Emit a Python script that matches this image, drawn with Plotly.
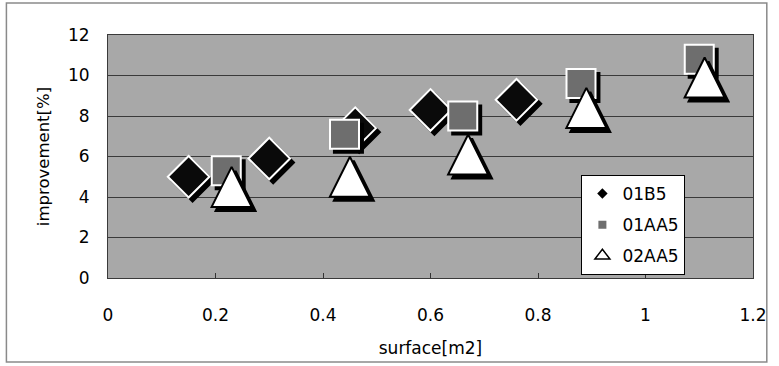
import plotly.graph_objects as go

# Measured improvement vs. surface for three sample series
x_01b5 = [0.15, 0.30, 0.46, 0.60, 0.76]
y_01b5 = [5.0, 5.9, 7.4, 8.3, 8.8]

x_01aa5 = [0.22, 0.44, 0.66, 0.88, 1.10]
y_01aa5 = [5.3, 7.1, 8.0, 9.6, 10.8]

x_02aa5 = [0.23, 0.45, 0.67, 0.89, 1.11]
y_02aa5 = [4.5, 5.0, 6.1, 8.4, 9.9]

series_names = ["01B5", "01AA5", "02AA5"]
x_ticks = [0, 0.2, 0.4, 0.6, 0.8, 1, 1.2]
y_ticks = [0, 2, 4, 6, 8, 10, 12]

# Figure geometry (px)
W, H = 779, 366
ML, MR, MT, MB = 108, 17, 35, 88
PW, PH = W - ML - MR, H - MT - MB
X_RANGE = (0, 1.2)
Y_RANGE = (0, 12)

# Drop-shadow offset, converted from px to data units
SH_PX = 4
dx = SH_PX * (X_RANGE[1] - X_RANGE[0]) / PW
dy = SH_PX * (Y_RANGE[1] - Y_RANGE[0]) / PH

FONT = "DejaVu Sans, Arial, sans-serif"

fig = go.Figure()

# Triangle drawn as a rotated arrow so it is as tall as it is wide
TRI_SIZE = 40
tri_marker = dict(symbol="arrow-down", angle=180, standoff=TRI_SIZE / 2)

styles = [
    (x_01b5, y_01b5, dict(symbol="diamond", size=32, color="#0a0a0a",
                          line=dict(color="white", width=2))),
    (x_01aa5, y_01aa5, dict(symbol="square", size=29, color="#6e6e6e",
                            line=dict(color="white", width=2))),
    (x_02aa5, y_02aa5, dict(size=TRI_SIZE, color="white",
                            line=dict(color="black", width=2), **tri_marker)),
]

for xs, ys, mk in styles:
    shadow = dict(mk)
    shadow["color"] = "black"
    shadow["line"] = dict(color="black", width=mk["line"]["width"])
    fig.add_trace(go.Scatter(
        x=[v + dx for v in xs], y=[v - dy for v in ys], mode="markers",
        marker=shadow, showlegend=False, hoverinfo="skip"))
    fig.add_trace(go.Scatter(
        x=xs, y=ys, mode="markers", marker=mk, showlegend=False))

# Legend entries with small key symbols
legend_markers = [
    dict(symbol="diamond", size=8, color="black"),
    dict(symbol="square", size=8, color="#6e6e6e"),
    dict(symbol="triangle-up-open", size=13, color="black", line=dict(width=1.5)),
]
for i, (name, mk) in enumerate(zip(series_names, legend_markers)):
    fig.add_trace(go.Scatter(
        x=[None], y=[None], mode="markers", name=name, marker=mk,
        legendgroup=f"g{i}"))

# Outer frame around the whole chart
def px_to_paper_x(px):
    return (px - ML) / PW

def px_to_paper_y(py):
    return (H - MB - py) / PH

fig.add_shape(type="rect", xref="paper", yref="paper",
              x0=px_to_paper_x(5), x1=px_to_paper_x(776),
              y0=px_to_paper_y(362), y1=px_to_paper_y(3),
              line=dict(color="#8a8a8a", width=1.5), fillcolor="rgba(0,0,0,0)",
              layer="below")

fig.update_layout(
    width=W, height=H,
    margin=dict(l=ML, r=MR, t=MT, b=MB),
    paper_bgcolor="white",
    plot_bgcolor="#a8a8a8",
    font=dict(family=FONT, color="black"),
    showlegend=True,
    legend=dict(
        x=px_to_paper_x(588), y=px_to_paper_y(175),
        xanchor="left", yanchor="top",
        bgcolor="white", bordercolor="black", borderwidth=1,
        font=dict(size=17, family=FONT),
        tracegroupgap=6, itemsizing="trace",
    ),
    xaxis=dict(
        range=list(X_RANGE), tickvals=x_ticks,
        ticktext=[str(v) for v in x_ticks],
        ticks="inside", ticklen=5, tickcolor="#333333",
        showgrid=False, zeroline=False,
        showline=True, linecolor="#3a3a3a", linewidth=1, mirror=True,
        tickfont=dict(size=17),
        ticklabelstandoff=22,
        title=dict(text="surface[m2]", font=dict(size=17), standoff=17),
    ),
    yaxis=dict(
        range=list(Y_RANGE), tickvals=y_ticks,
        ticks="", showgrid=True, gridcolor="#3a3a3a", gridwidth=1,
        zeroline=False,
        showline=True, linecolor="#3a3a3a", linewidth=1, mirror=True,
        tickfont=dict(size=17),
        ticklabelstandoff=14,
        title=dict(text="improvement[%]", font=dict(size=16.5), standoff=14),
    ),
)

fig.write_html("out.html")
